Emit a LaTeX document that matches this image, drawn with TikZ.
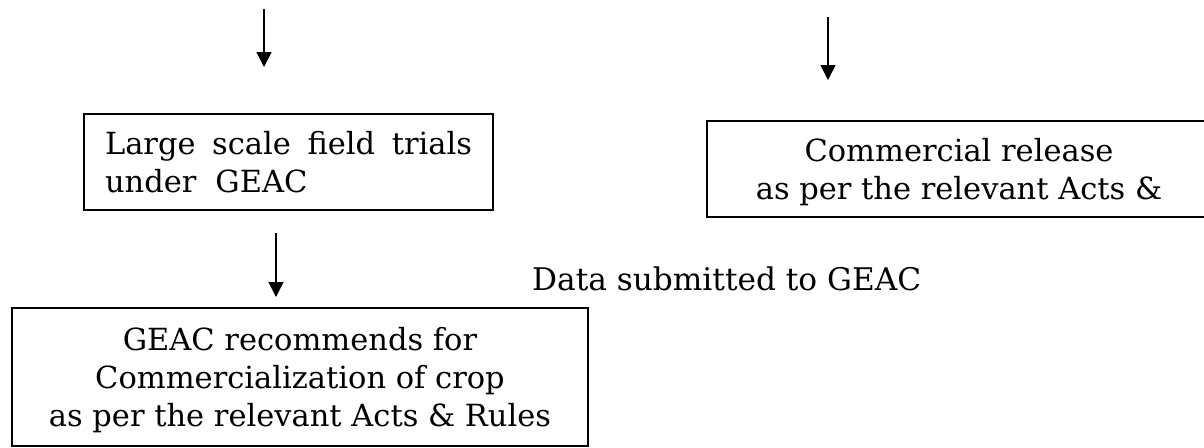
\documentclass[tikz,border=0pt]{standalone}
\usepackage{fontspec}
\setmainfont{DejaVu Serif}
\usetikzlibrary{arrows.meta}
\tikzset{
  boxed/.style={draw=black, line width=1.5pt, inner sep=0pt, align=center,
    text depth=0pt, font=\fontsize{30.5}{38}\selectfont},
  flow/.style={line width=1.4pt, -{Triangle[width=15pt,length=15pt]}},
  lbl/.style={inner sep=0pt, anchor=base west, font=\fontsize{31.2}{38}\selectfont}
}
\begin{document}
\begin{tikzpicture}[x=1pt,y=-1pt]
\useasboundingbox (0,0) rectangle (1204,447);
% coordinates for free arrow ends
\coordinate (a1s) at (264,9);
\coordinate (a1e) at (264,67);
\coordinate (a2s) at (828,17);
\coordinate (a2e) at (828,80);
\coordinate (a3s) at (276,233);
\coordinate (a3e) at (276,297);
% boxes
\node[boxed, minimum width=409pt, minimum height=96pt] (trials) at (288.5,162)
  {\makebox[367pt][s]{Large scale field trials}\\
   \makebox[367pt][l]{under\hspace{19pt}GEAC}};
\begin{scope}
\clip (0,0) rectangle (1204,447);
\node[boxed, line width=1.8pt, minimum width=504pt, minimum height=96pt] (release) at (959,169)
  {Commercial release\\ as per the relevant Acts \&};
\end{scope}
\node[boxed, line width=1.7pt, minimum width=576pt, minimum height=138pt] (recommend) at (300,377)
  {GEAC recommends for\\ Commercialization of crop\\ as per the relevant Acts \& Rules};
\node[lbl] (data) at (532,290) {Data submitted to GEAC};
% arrows
\draw[flow] (a1s) -- (a1e);
\draw[flow] (a2s) -- (a2e);
\draw[flow] (a3s) -- (a3e);
\end{tikzpicture}
\end{document}
